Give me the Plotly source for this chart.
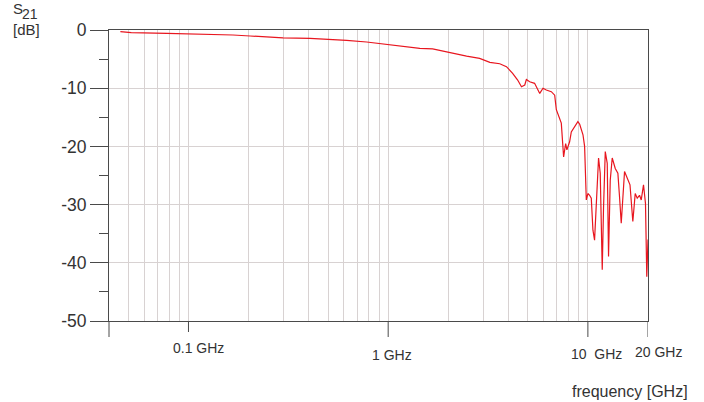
import math
import plotly.graph_objects as go

# ---------------- data ----------------
freq_ghz = [0.0456, 0.0517, 0.078, 0.1, 0.118, 0.167, 0.2035, 0.247, 0.2975, 0.406,
            0.529, 0.619, 0.78, 0.909, 1.144, 1.44, 1.67, 2.0, 2.28, 2.47,
            2.87, 3.23, 3.62, 3.91, 4.20, 4.45, 4.65, 4.83, 4.92, 5.11,
            5.41, 5.74, 5.96, 6.19, 6.56, 6.82, 6.95, 7.36, 7.56, 7.65,
            7.74, 7.85, 8.1, 8.26, 8.91, 9.1, 9.45, 9.63, 9.70, 9.82,
            10.0, 10.2, 10.4, 10.6, 10.8, 11.01, 11.31, 11.53, 11.80, 11.98,
            12.22, 12.5, 12.69, 12.94, 13.24, 13.71, 14.13, 14.4, 14.69, 15.26,
            15.85, 16.25, 16.79, 17.26, 17.66, 18.14, 18.5, 18.99, 19.43, 19.72,
            20.0]
s21_db = [-0.29, -0.46, -0.57, -0.63, -0.74, -0.86, -1.03, -1.26, -1.37, -1.43,
          -1.6, -1.77, -2.06, -2.35, -2.72, -3.15, -3.26, -3.84, -4.18, -4.5,
          -4.87, -5.55, -5.8, -6.3, -7.44, -8.6, -9.74, -9.45, -8.5, -8.9,
          -9.16, -10.9, -10.0, -10.3, -10.6, -11.2, -13.7, -16.0, -21.8, -20.3,
          -19.5, -20.6, -19.2, -17.5, -15.75, -16.2, -18.0, -20.0, -25.2, -29.2,
          -28.1, -28.4, -28.9, -34.4, -36.1, -30.4, -22.0, -24.6, -41.2, -30.4,
          -20.9, -22.9, -38.9, -25.8, -22.0, -23.8, -24.6, -28.6, -33.2, -24.3,
          -25.8, -26.6, -32.9, -28.1, -28.9, -28.4, -29.2, -26.6, -29.8, -42.4,
          -36.0]

x_major_ticks = [0.1, 1, 10, 20]
x_tick_labels = ["0.1 GHz", "1 GHz", "10\u00a0 GHz", "20 GHz"]
x_minor_grid = [0.05, 0.06, 0.07, 0.08, 0.09,
                0.2, 0.3, 0.4, 0.5, 0.6, 0.7, 0.8, 0.9,
                2, 3, 4, 5, 6, 7, 8, 9]
y_ticks = [0, -10, -20, -30, -40, -50]
y_tick_labels = ["0", "-10", "-20", "-30", "-40", "-50"]
y_minor_ticks = [-5, -15, -25, -35, -45]

# ---------------- style ----------------
AXIS = "#4a4a4a"
GRID = "#d8d2d2"
TXT = "#333333"
FONT = "Liberation Sans, Arial, sans-serif"

fig = go.Figure()
fig.add_trace(go.Scatter(x=freq_ghz, y=s21_db, mode="lines",
                         line=dict(color="#e8161f", width=1.2),
                         showlegend=False, hoverinfo="skip"))

fig.update_layout(
    width=704, height=402,
    margin=dict(l=109, r=56, t=30, b=81),
    paper_bgcolor="white", plot_bgcolor="white",
    font=dict(family=FONT, color=TXT),
    xaxis=dict(type="log", range=[math.log10(0.04), math.log10(20)],
               tickmode="array", tickvals=x_major_ticks, showticklabels=False,
               ticks="", showgrid=True, gridcolor=GRID, gridwidth=1,
               showline=True, linecolor=AXIS, linewidth=1, mirror=True,
               zeroline=False,
               minor=dict(tickmode="array", tickvals=x_minor_grid, showgrid=True,
                          gridcolor=GRID, gridwidth=1, ticks="")),
    yaxis=dict(range=[-50, 0], tickmode="array", tickvals=y_ticks,
               ticktext=y_tick_labels, ticks="outside", ticklen=18,
               tickcolor=AXIS, tickwidth=1, tickfont=dict(size=17.5, color=TXT),
               showgrid=True, gridcolor=GRID, gridwidth=1,
               showline=True, linecolor=AXIS, linewidth=1, mirror=True,
               zeroline=False,
               minor=dict(tickmode="array", tickvals=y_minor_ticks,
                          ticks="outside", ticklen=9, tickcolor=AXIS,
                          showgrid=False)),
)

# x tick marks (0.1 GHz short, others long) and axis extension below
x_tick_len = [11, 16, 16, 16]
shapes = []
for v, ln in zip(x_major_ticks, x_tick_len):
    shapes.append(dict(type="line", xref="x", yref="paper", ysizemode="pixel",
                       yanchor=0, x0=v, x1=v, y0=0, y1=-ln,
                       line=dict(color=AXIS, width=1)))
shapes.append(dict(type="line", xref="paper", yref="paper", ysizemode="pixel",
                   yanchor=0, x0=0, x1=0, y0=0, y1=-16,
                   line=dict(color=AXIS, width=1)))
fig.update_layout(shapes=shapes)

# x tick labels
label_xshift = [10, 4, 9, 10]
label_yshift = [-26.5, -33.5, -32.5, -31]
annots = []
for v, t, dx, dy in zip(x_major_ticks, x_tick_labels, label_xshift, label_yshift):
    annots.append(dict(x=math.log10(v), xref="x", y=0, yref="paper",
                       text=t, showarrow=False, xanchor="center", yanchor="middle",
                       xshift=dx, yshift=dy,
                       font=dict(family=FONT, size=14, color=TXT)))
# axis titles
annots.append(dict(x=0.966, xref="paper", y=0, yref="paper", text="frequency [GHz]",
                   showarrow=False, xanchor="center", yanchor="middle", yshift=-70,
                   font=dict(family=FONT, size=16, color=TXT)))
annots.append(dict(x=(10.5 - 109) / 539, xref="paper", y=1, yref="paper", text="S",
                   showarrow=False, xanchor="left", yanchor="middle", yshift=30 - 8.7,
                   font=dict(family=FONT, size=15, color=TXT)))
annots.append(dict(x=(20 - 109) / 539, xref="paper", y=1, yref="paper", text="21",
                   showarrow=False, xanchor="left", yanchor="middle", yshift=30 - 14.3,
                   font=dict(family=FONT, size=14, color=TXT)))
annots.append(dict(x=(10.5 - 109) / 539, xref="paper", y=1, yref="paper", text="[dB]",
                   showarrow=False, xanchor="left", yanchor="middle", yshift=30 - 29,
                   font=dict(family=FONT, size=15, color=TXT)))
fig.update_layout(annotations=annots)

fig.write_html("out.html",
               config={"displayModeBar": False},
               post_script="document.body.style.margin='0';"
                           "document.body.style.overflow='hidden';")
